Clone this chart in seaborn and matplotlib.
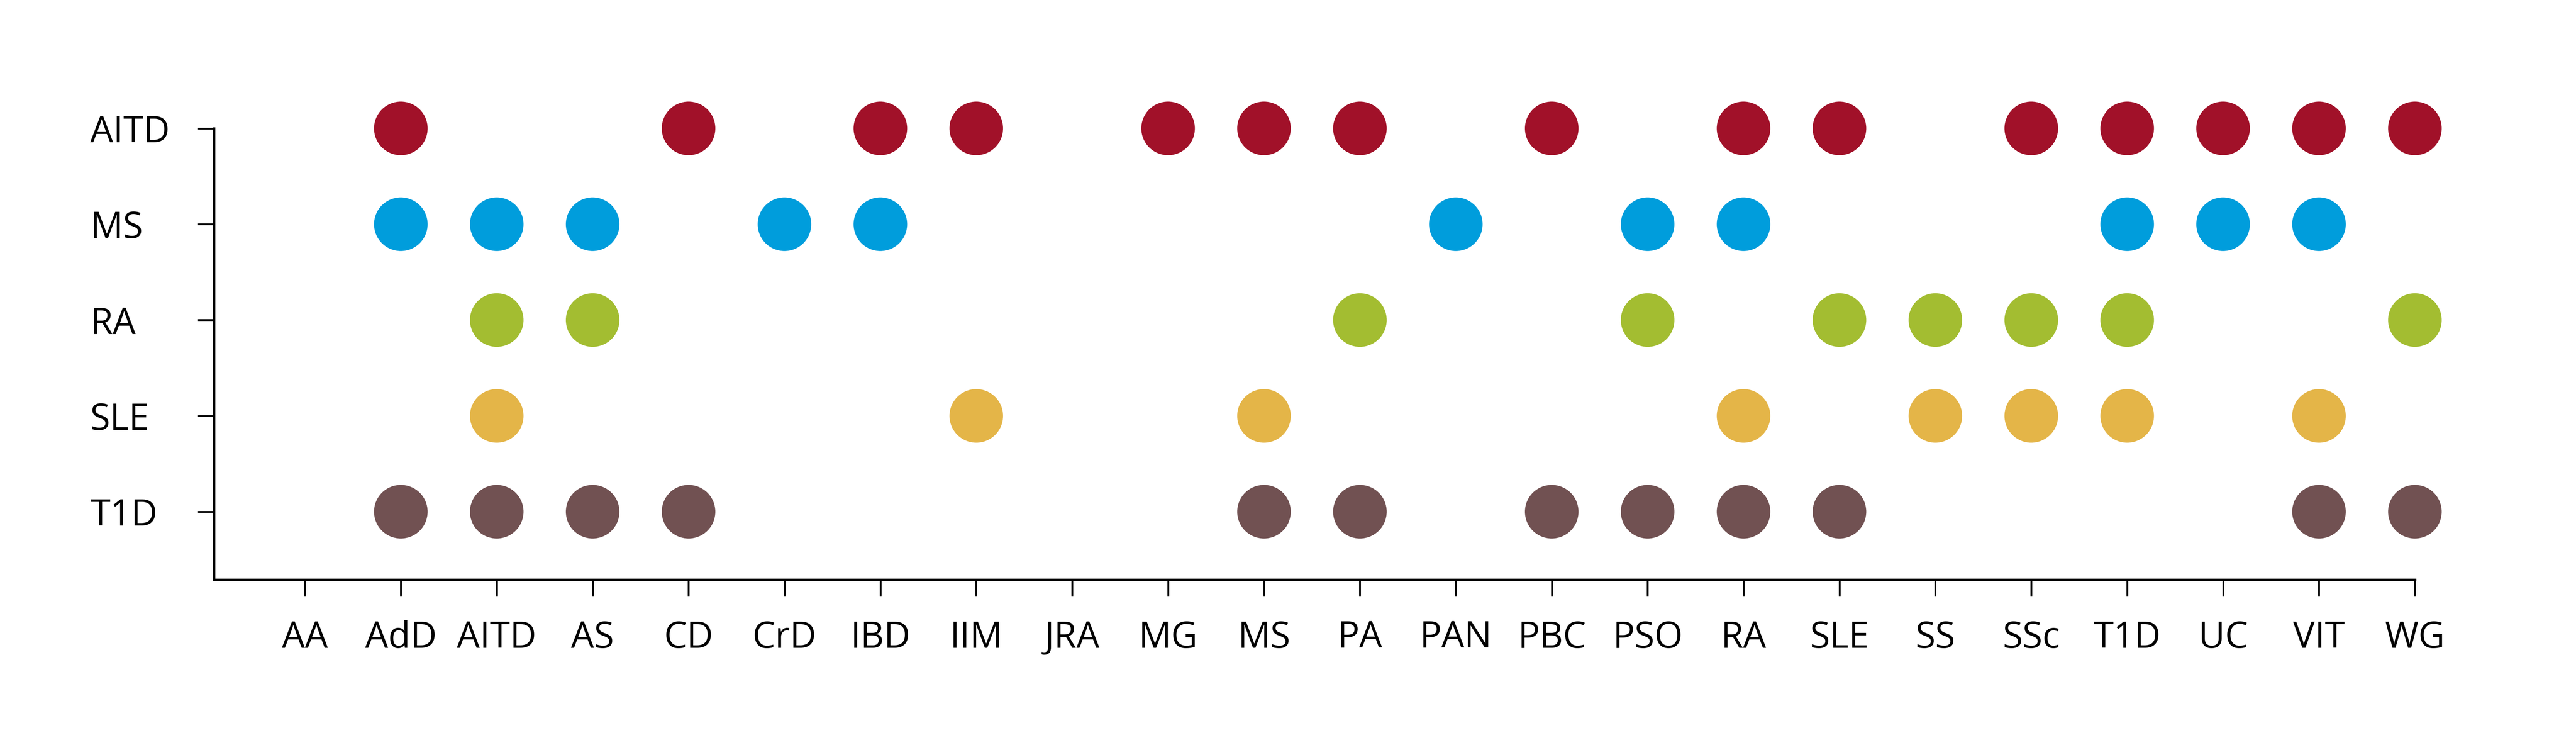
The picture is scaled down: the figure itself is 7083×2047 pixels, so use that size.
import numpy as np
import pandas as pd
import matplotlib.pyplot as plt
import seaborn as sns

# categories on each axis
diseases_x = ["AA", "AdD", "AITD", "AS", "CD", "CrD", "IBD", "IIM", "JRA", "MG",
              "MS", "PA", "PAN", "PBC", "PSO", "RA", "SLE", "SS", "SSc", "T1D",
              "UC", "VIT", "WG"]
diseases_y = ["AITD", "MS", "RA", "SLE", "T1D"]

# shared associations per row disease
aitd_links = ["AdD", "CD", "IBD", "IIM", "MG", "MS", "PA", "PBC", "RA", "SLE",
              "SSc", "T1D", "UC", "VIT", "WG"]
ms_links = ["AdD", "AITD", "AS", "CrD", "IBD", "PAN", "PSO", "RA", "T1D", "UC", "VIT"]
ra_links = ["AITD", "AS", "PA", "PSO", "SLE", "SS", "SSc", "T1D", "WG"]
sle_links = ["AITD", "IIM", "MS", "RA", "SS", "SSc", "T1D", "VIT"]
t1d_links = ["AdD", "AITD", "AS", "CD", "MS", "PA", "PBC", "PSO", "RA", "SLE",
             "VIT", "WG"]

row_colors = ["#A11129", "#009DDC", "#A3BD31", "#E4B548", "#715152"]

rows = []
for name, links in zip(diseases_y, [aitd_links, ms_links, ra_links, sle_links, t1d_links]):
    for d in links:
        rows.append({"other": d, "disease": name})
df = pd.DataFrame(rows)
df["other"] = pd.Categorical(df["other"], categories=diseases_x)
df["disease"] = pd.Categorical(df["disease"], categories=diseases_y)

sns.set_style("ticks")
plt.rcParams['font.family'] = ['Open Sans', 'DejaVu Sans']

fig = plt.figure(figsize=(7083 / 300, 2047 / 300), dpi=300)
ax = fig.add_axes([0.083, 0.2218, 0.8768, 0.683])

sns.scatterplot(data=df, x="other", y="disease", hue="disease",
                palette=row_colors, s=1250, linewidth=0, legend=False,
                ax=ax, clip_on=False)

ax.set_xlim(-0.95, 22.6)
ax.set_ylim(4.71, -0.6)
ax.set_xlabel("")
ax.set_ylabel("")

sns.despine(ax=ax)
ax.spines['left'].set_bounds(4.71, 0)
ax.spines['bottom'].set_bounds(-0.95, 22)
for sp in ["left", "bottom"]:
    ax.spines[sp].set_linewidth(1.7)
    ax.spines[sp].set_color("black")

ax.tick_params(axis="both", direction="out", length=10.5, width=1.2,
               color="black", labelsize=24, labelcolor="black")
ax.tick_params(axis="x", pad=16)
ax.tick_params(axis="y", pad=71)
for lab in ax.get_yticklabels():
    lab.set_horizontalalignment("left")

fig.savefig("out.png", dpi=300)
